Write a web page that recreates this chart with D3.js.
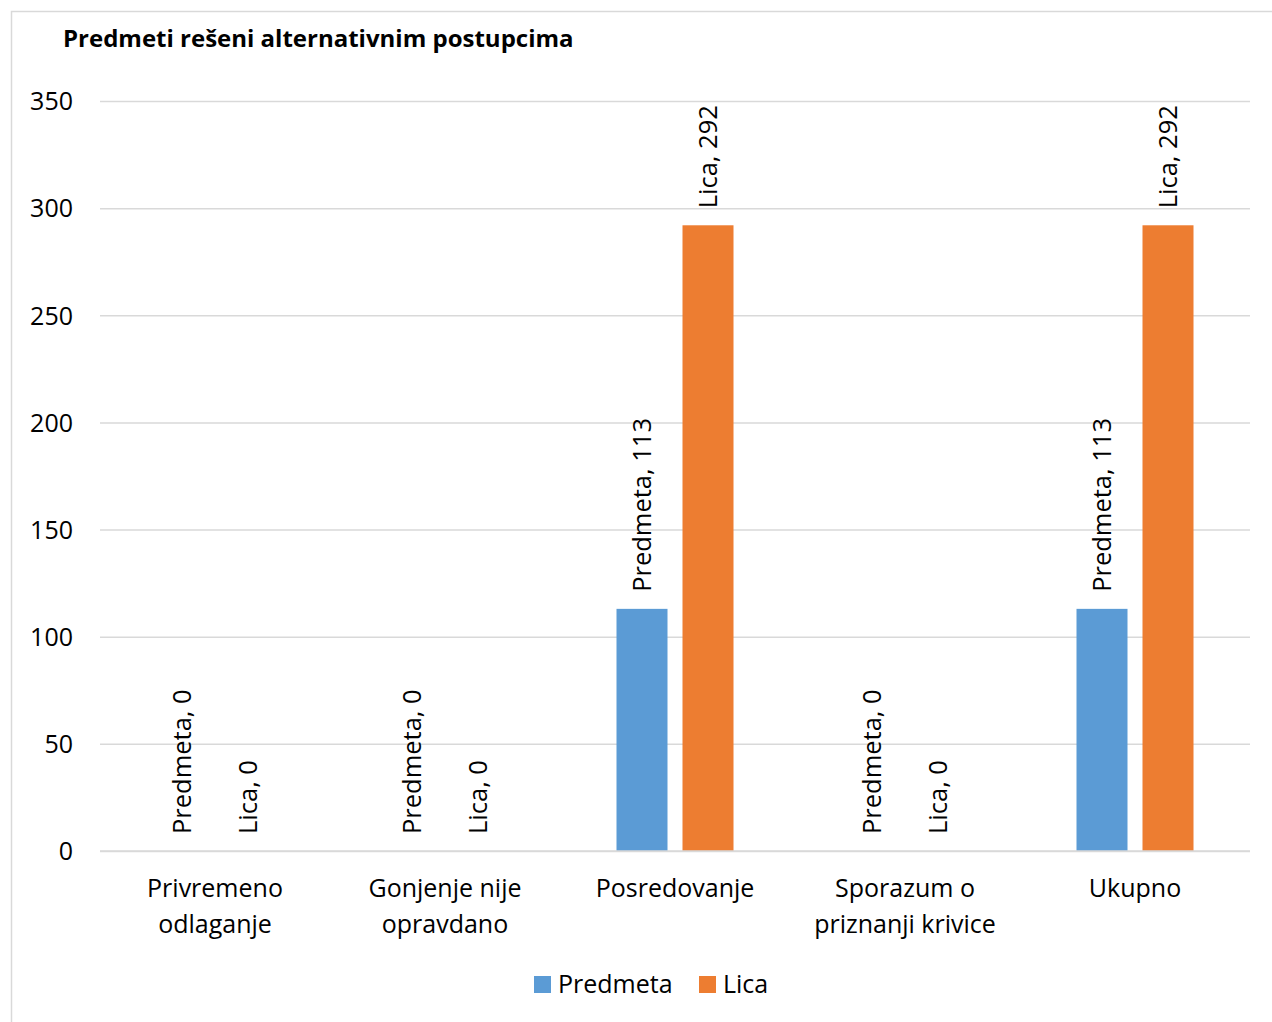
<!DOCTYPE html>
<html>
<head>
<meta charset="utf-8">
<script src="https://cdn.jsdelivr.net/npm/d3@7"></script>
<style>
  body { margin: 0; background: #fff; }
  svg text { font-family: "Open Sans", sans-serif; fill: #000; }
</style>
</head>
<body>
<div class="chart"></div>
<script>
// chart data
var categories = [["Privremeno", "odlaganje"], ["Gonjenje nije", "opravdano"], ["Posredovanje"], ["Sporazum o", "priznanji krivice"], ["Ukupno"]];
var seriesNames = ["Predmeta", "Lica"];
var predmeta = [0, 0, 113, 0, 113];
var lica = [0, 0, 292, 0, 292];
var yTicks = [0, 50, 100, 150, 200, 250, 300, 350];
var colors = ["#5B9BD5", "#ED7D31"];

var svgWidth = 1272;
var svgHeight = 1022;

var svg = d3.select(".chart")
    .append("svg")
    .attr("width", svgWidth)
    .attr("height", svgHeight);

// outer frame
svg.append("rect")
    .attr("x", 11.5)
    .attr("y", 11.5)
    .attr("width", 1300)
    .attr("height", 1100)
    .attr("fill", "none")
    .attr("stroke", "#D9D9D9")
    .attr("stroke-width", 1.5);

// title
svg.append("text")
    .attr("x", 63)
    .attr("y", 47)
    .attr("font-size", "24px")
    .attr("font-weight", "bold")
    .text("Predmeti rešeni alternativnim postupcima");

var catIdx = categories.map(function (d, i) { return i; });

var x0 = d3.scaleBand().domain(catIdx).range([100, 1250]);
var x1 = d3.scaleBand().domain(seriesNames).range([0, 117]).paddingInner(15 / 66);
var groupOffset = (x0.bandwidth() - 117) / 2;
var yScale = d3.scaleLinear().domain([0, 350]).range([851, 101]);

// gridlines + y labels
var yAxis = d3.axisLeft(yScale)
    .tickValues(yTicks)
    .tickSize(-1150)
    .tickPadding(27);

var yG = svg.append("g")
    .attr("transform", "translate(100,0)")
    .call(yAxis);
yG.select(".domain").remove();
yG.selectAll(".tick line").attr("stroke", "#D9D9D9").attr("stroke-width", 1.5);
yG.selectAll(".tick text")
    .attr("font-size", "25px")
    .attr("font-family", "Open Sans, sans-serif")
    .attr("fill", "#000")
    .attr("dy", "0.35em");

// bars
var table = catIdx.map(function (i) {
    return [
        { s: "Predmeta", v: predmeta[i], c: colors[0] },
        { s: "Lica", v: lica[i], c: colors[1] }
    ];
});

var groups = svg.selectAll(".grp")
    .data(table)
    .enter()
    .append("g")
    .attr("class", "grp")
    .attr("transform", function (d, i) { return "translate(" + (x0(i) + groupOffset) + ",0)"; });

groups.selectAll("rect")
    .data(function (d) { return d; })
    .enter()
    .append("rect")
    .attr("x", function (d) { return x1(d.s); })
    .attr("y", function (d) { return yScale(d.v); })
    .attr("width", x1.bandwidth())
    .attr("height", function (d) { return yScale(0) - yScale(d.v); })
    .attr("fill", function (d) { return d.c; });

// rotated data labels
groups.selectAll(".lbl")
    .data(function (d) { return d; })
    .enter()
    .append("text")
    .attr("class", "lbl")
    .attr("font-size", "25.5px")
    .attr("text-anchor", "start")
    .attr("dy", "0.35em")
    .attr("transform", function (d) {
        return "translate(" + (x1(d.s) + x1.bandwidth() / 2) + "," + (yScale(d.v) - 17) + ") rotate(-90)";
    })
    .text(function (d) { return d.s + ", " + d.v; });

// zero baseline
svg.append("line")
    .attr("x1", 100).attr("x2", 1250)
    .attr("y1", yScale(0)).attr("y2", yScale(0))
    .attr("stroke", "#D9D9D9")
    .attr("stroke-width", 1.5);

// category labels
var catLabels = svg.selectAll(".cat")
    .data(categories)
    .enter()
    .append("text")
    .attr("class", "cat")
    .attr("font-size", "25px")
    .attr("text-anchor", "middle")
    .attr("x", function (d, i) { return x0(i) + x0.bandwidth() / 2; })
    .attr("y", 897);

catLabels.selectAll("tspan")
    .data(function (d) { return d; })
    .enter()
    .append("tspan")
    .attr("x", function () { return d3.select(this.parentNode).attr("x"); })
    .attr("dy", function (d, i) { return i === 0 ? 0 : 36; })
    .text(function (d) { return d; });

// legend
var legendX = [534, 699];
var legend = svg.selectAll(".leg")
    .data(seriesNames)
    .enter()
    .append("g")
    .attr("class", "leg")
    .attr("transform", function (d, i) { return "translate(" + legendX[i] + ",976)"; });

legend.append("rect")
    .attr("width", 17)
    .attr("height", 17)
    .attr("fill", function (d, i) { return colors[i]; });

legend.append("text")
    .attr("x", 24)
    .attr("y", 17)
    .attr("font-size", "25px")
    .text(function (d) { return d; });
</script>
</body>
</html>
